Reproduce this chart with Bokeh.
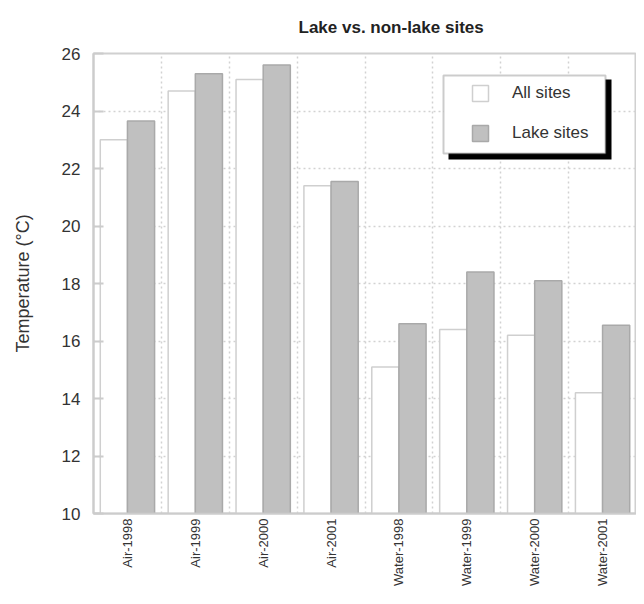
import numpy as np
from math import pi
from bokeh.plotting import figure
from bokeh.models import (Range1d, FixedTicker, Legend, LegendItem,
                          BoxAnnotation, ColumnDataSource)
from bokeh.transform import dodge
from bokeh.embed import file_html
from bokeh.resources import INLINE

# ---- data ----
categories = ["Air-1998", "Air-1999", "Air-2000", "Air-2001",
              "Water-1998", "Water-1999", "Water-2000", "Water-2001"]
all_sites = [23.0, 24.7, 25.1, 21.4, 15.1, 16.4, 16.2, 14.2]
lake_sites = [23.65, 25.3, 25.6, 21.55, 16.6, 18.4, 18.1, 16.55]
y_ticks = [10, 12, 14, 16, 18, 20, 22, 24, 26]
series_names = ["All sites", "Lake sites"]

FONT = "Liberation Sans"
TEXT = "#333333"
LIGHT = "#cccccc"

n = len(categories)
idx = np.arange(n)
src = ColumnDataSource(dict(cat=categories, pos=idx + 0.5,
                            all=all_sites, lake=lake_sites))

p = figure(width=636, height=588,
           x_range=Range1d(0, n), y_range=Range1d(y_ticks[0], y_ticks[-1]),
           output_backend="svg", toolbar_location=None,
           title="Lake vs. non-lake sites",
           min_border_left=93, min_border_right=0,
           min_border_top=53, min_border_bottom=0)

p.background_fill_color = "white"
p.border_fill_color = "white"
p.outline_line_color = "#d0d0d0"
p.outline_line_width = 2

p.title.align = "left"
p.title.vertical_align = "top"
p.title.offset = 205
p.title.standoff = 30
p.title.text_font = FONT
p.title.text_font_size = "17px"
p.title.text_font_style = "bold"
p.title.text_color = "#222222"

r_all = p.vbar(x=dodge("pos", -0.2), top="all", bottom=0, width=0.4,
               source=src, fill_color="white", line_color="#cfcfcf",
               line_width=1.5)
r_lake = p.vbar(x=dodge("pos", 0.2), top="lake", bottom=0, width=0.4,
                source=src, fill_color="#c0c0c0", line_color="#a9a9a9",
                line_width=1.5)

# grids
p.xgrid.ticker = FixedTicker(ticks=list(range(1, n)))
p.ygrid.ticker = FixedTicker(ticks=y_ticks)
for g in (p.xgrid, p.ygrid):
    g.grid_line_color = "#d2d2d2"
    g.grid_line_dash = "2 3"
    g.grid_line_width = 1.5

# x axis
xa = p.xaxis[0]
xa.ticker = FixedTicker(ticks=[float(i + 0.5) for i in idx])
xa.major_label_overrides = {float(i + 0.5): c for i, c in zip(idx, categories)}
xa.major_label_orientation = pi / 2
xa.major_tick_in = 0
xa.major_tick_out = 0
xa.minor_tick_line_color = None
xa.axis_line_color = LIGHT
xa.axis_line_width = 2
xa.major_label_standoff = 5
xa.major_label_text_font = FONT
xa.major_label_text_font_size = "13px"
xa.major_label_text_color = TEXT

# y axis
ya = p.yaxis[0]
ya.ticker = FixedTicker(ticks=y_ticks)
ya.major_tick_in = 10
ya.major_tick_out = 0
ya.major_tick_line_color = LIGHT
ya.major_tick_line_width = 2
ya.minor_tick_line_color = None
ya.axis_line_color = LIGHT
ya.axis_line_width = 2
ya.major_label_standoff = 13
ya.major_label_text_font = FONT
ya.major_label_text_font_size = "17px"
ya.major_label_text_color = TEXT
ya.axis_label = "Temperature (°C)"
ya.axis_label_text_font = FONT
ya.axis_label_text_font_size = "18px"
ya.axis_label_text_font_style = "normal"
ya.axis_label_text_color = TEXT
ya.axis_label_standoff = 26

# legend with drop shadow box
shadow = BoxAnnotation(left=355, right=518, bottom=354, top=434,
                       left_units="screen", right_units="screen",
                       bottom_units="screen", top_units="screen",
                       fill_color="black", fill_alpha=1.0, line_color=None)
box = BoxAnnotation(left=350, right=512, bottom=360, top=438,
                    left_units="screen", right_units="screen",
                    bottom_units="screen", top_units="screen",
                    fill_color="white", fill_alpha=1.0,
                    line_color="#555555", line_width=2)
p.add_layout(shadow)
p.add_layout(box)

legend = Legend(items=[LegendItem(label=series_names[0], renderers=[r_all]),
                       LegendItem(label=series_names[1], renderers=[r_lake])],
                location=(377, 370), padding=0, margin=0, spacing=20,
                glyph_width=20, glyph_height=20, label_height=20,
                label_standoff=22,
                background_fill_alpha=0, border_line_alpha=0,
                label_text_font=FONT, label_text_font_size="17px",
                label_text_color=TEXT)
p.add_layout(legend)

open("out.html", "w").write(file_html(p, INLINE))
